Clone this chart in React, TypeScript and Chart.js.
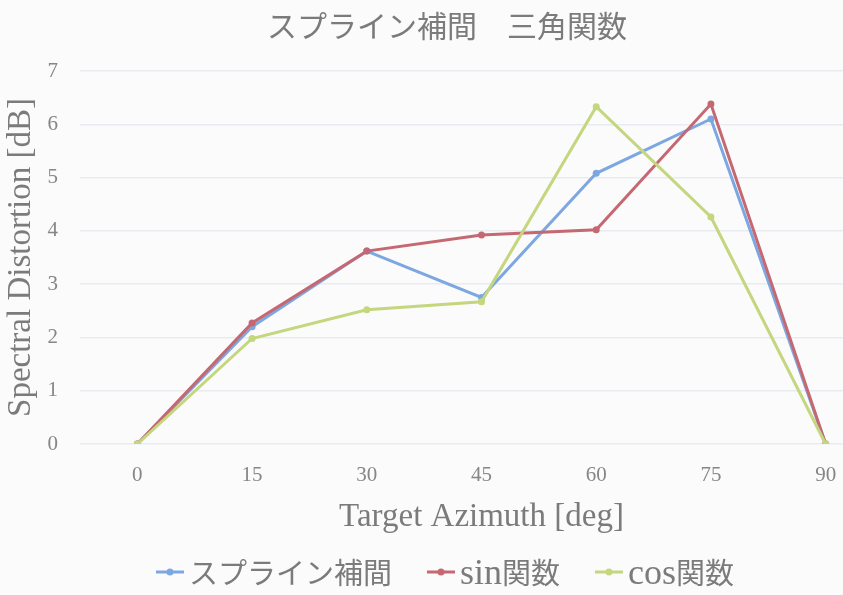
import React, { useEffect, useRef } from 'react';
import { Chart, registerables } from 'chart.js';

Chart.register(...registerables);

// Text
const chartTitle = 'スプライン補間　三角関数';
const xAxisTitle = 'Target Azimuth [deg]';
const yAxisTitle = 'Spectral Distortion [dB]';

// Categories (target azimuth, deg)
const azimuths = ['0', '15', '30', '45', '60', '75', '90'];

// Series values (spectral distortion, dB)
const splineValues = [0, 2.2, 3.62, 2.75, 5.08, 6.1, 0];
const sinValues = [0, 2.27, 3.62, 3.92, 4.02, 6.38, 0];
const cosValues = [0, 1.98, 2.52, 2.67, 6.33, 4.26, 0];

const seriesNames = ['スプライン補間', 'sin関数', 'cos関数'];
const seriesColors = ['#7ca7e0', '#c56872', '#c4d67e'];

// Y axis range
const yMin = 0;
const yMax = 7;
const yStep = 1;

const CANVAS_W = 894;
const CANVAS_H = 595;
const TEXT_GREY = '#7b7b7b';
const TICK_GREY = '#868686';
const SERIF = '"Liberation Serif", "Times New Roman", serif';
const CJK = '"Noto Sans CJK JP", "Noto Sans", sans-serif';

// Split a label into runs of CJK and Latin characters
function splitRuns(text: string): { cjk: boolean; s: string }[] {
  const out: { cjk: boolean; s: string }[] = [];
  for (const ch of text) {
    const cjk = /[\u3000-\u30ff\u3400-\u9fff\uff00-\uffef]/.test(ch);
    const last = out[out.length - 1];
    if (last && last.cjk === cjk) last.s += ch;
    else out.push({ cjk, s: ch });
  }
  return out;
}

// Legend drawn under the axis title: a short line with a dot, then the label
const bottomLegend = {
  id: 'bottomLegend',
  afterDraw(chart: any) {
    const ctx: CanvasRenderingContext2D = chart.ctx;
    const latinFont = `36px ${SERIF}`;
    const cjkFont = `29px ${CJK}`;
    const markerW = 28;
    const markerGap = 5;
    const itemGap = 35;
    const centerX = 445;
    const markY = 572;
    const baseY = 584;

    ctx.save();
    const items = chart.data.datasets.map((ds: any) => {
      const runs = splitRuns(ds.label).map((r) => {
        ctx.font = r.cjk ? cjkFont : latinFont;
        return { ...r, w: ctx.measureText(r.s).width };
      });
      const textW = runs.reduce((a: number, r: any) => a + r.w, 0);
      return { color: ds.borderColor, runs, w: markerW + markerGap + textW };
    });
    const total =
      items.reduce((a: number, it: any) => a + it.w, 0) + itemGap * (items.length - 1);
    let x = centerX - total / 2;
    for (const it of items) {
      ctx.strokeStyle = it.color;
      ctx.lineWidth = 3;
      ctx.beginPath();
      ctx.moveTo(x, markY);
      ctx.lineTo(x + markerW, markY);
      ctx.stroke();
      ctx.fillStyle = it.color;
      ctx.beginPath();
      ctx.arc(x + markerW / 2, markY, 3.5, 0, Math.PI * 2);
      ctx.fill();
      x += markerW + markerGap;
      ctx.fillStyle = TEXT_GREY;
      ctx.textBaseline = 'alphabetic';
      ctx.textAlign = 'left';
      for (const r of it.runs) {
        ctx.font = r.cjk ? cjkFont : latinFont;
        ctx.fillText(r.s, x, baseY);
        x += r.w;
      }
      x += itemGap;
    }
    ctx.restore();
  },
};

const backgroundFill = {
  id: 'backgroundFill',
  beforeDraw(chart: any) {
    const ctx = chart.ctx;
    ctx.save();
    ctx.fillStyle = '#fbfbfc';
    ctx.fillRect(0, 0, chart.width, chart.height);
    ctx.restore();
  },
};

export default function App() {
  const canvasRef = useRef<HTMLCanvasElement | null>(null);

  useEffect(() => {
    const canvas = canvasRef.current;
    if (!canvas) return;

    const series = [splineValues, sinValues, cosValues];
    const datasets = series.map((values, i) => ({
      label: seriesNames[i],
      data: values,
      borderColor: seriesColors[i],
      backgroundColor: seriesColors[i],
      pointBackgroundColor: seriesColors[i],
      pointBorderColor: seriesColors[i],
      borderWidth: 3,
      pointRadius: 3.5,
      pointBorderWidth: 0,
      tension: 0,
      fill: false,
      order: series.length - 1 - i,
    }));

    const chart = new Chart(canvas, {
      type: 'line',
      data: { labels: azimuths, datasets },
      plugins: [backgroundFill, bottomLegend],
      options: {
        responsive: false,
        animation: false,
        layout: { padding: { top: 0, left: 11, right: 11, bottom: 58 } },
        plugins: {
          legend: { display: false },
          tooltip: { enabled: false },
          title: {
            display: true,
            text: chartTitle,
            color: TEXT_GREY,
            font: { family: CJK, size: 30, weight: 'normal', lineHeight: 1.2 },
            padding: { top: 8, bottom: 27 },
          },
        },
        scales: {
          x: {
            type: 'category',
            offset: true,
            grid: { display: false, drawTicks: false },
            border: { display: false },
            ticks: {
              color: TICK_GREY,
              padding: 19,
              maxRotation: 0,
              font: { family: SERIF, size: 21 },
            },
            title: {
              display: true,
              text: xAxisTitle,
              color: TEXT_GREY,
              font: { family: SERIF, size: 33, lineHeight: 1.2 },
              padding: { top: 0, bottom: 0 },
            },
            afterFit: (scale: any) => {
              scale.height = 93;
            },
          },
          y: {
            min: yMin,
            max: yMax,
            grid: { color: '#e8ecf1', lineWidth: 1.5, drawTicks: false },
            border: { display: false },
            ticks: {
              stepSize: yStep,
              color: TICK_GREY,
              padding: 22,
              font: { family: SERIF, size: 21 },
            },
            title: {
              display: true,
              text: yAxisTitle,
              color: TEXT_GREY,
              font: { family: SERIF, size: 33, lineHeight: 1.2 },
              padding: { top: -9, bottom: 0 },
            },
            afterFit: (scale: any) => {
              scale.width = 69;
            },
          },
        },
      },
    });

    return () => chart.destroy();
  }, []);

  return (
    <div
      style={{
        position: 'fixed',
        left: 0,
        top: 0,
        width: 843,
        height: 595,
        overflow: 'hidden',
        background: '#fbfbfc',
      }}
    >
      <canvas
        ref={canvasRef}
        width={CANVAS_W}
        height={CANVAS_H}
        style={{ display: 'block', width: CANVAS_W, height: CANVAS_H }}
      />
    </div>
  );
}
